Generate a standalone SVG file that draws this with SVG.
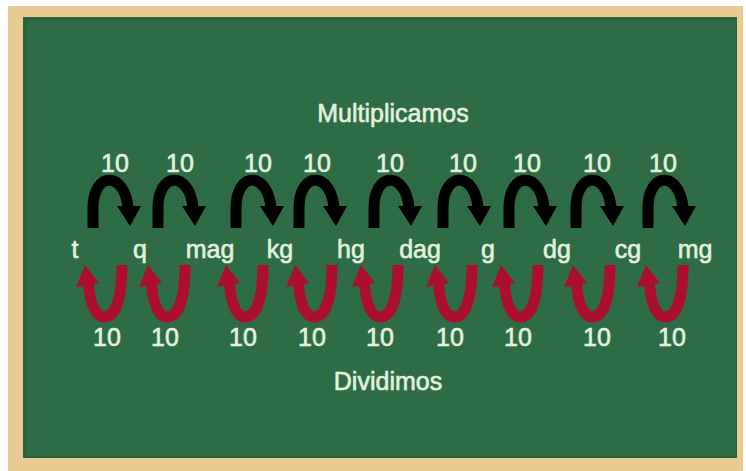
<svg xmlns="http://www.w3.org/2000/svg" width="746" height="471" viewBox="0 0 746 471">
<defs>
<style>
.t{font-family:"Liberation Sans",Arial,sans-serif;fill:#E1F2DE;stroke:#E1F2DE;stroke-width:0.6;text-anchor:middle;font-size:25px}
.h{font-size:25px}
.u{font-size:25px}
.bs{fill:none;stroke:#000;stroke-width:11;stroke-linecap:butt}
.rs{fill:none;stroke:#AC0F2D;stroke-width:11;stroke-linecap:butt}
</style>
<g id="blk">
<path class="bs" d="M 6 50 L 6 30 C 6 -7 38 -7 41 30"/>
<polygon points="30,28 54,28 43,48" fill="#000"/>
</g>
<g id="red">
<path class="rs" d="M 11 14 C 13 44 20 52 27 52 C 35 52 45 42 45 0"/>
<polygon points="-1,22 22,18 8,0" fill="#AC0F2D"/>
</g>
</defs>
<g id="board">
<rect x="8" y="6" width="735" height="466" fill="#EACA93"/>
<rect x="23" y="17" width="714" height="441" fill="#2A6240"/>
<rect x="27" y="20" width="709" height="436" fill="#2E6C46"/>
</g>
<g id="titles">
<text class="t h" x="393" y="122">Multiplicamos</text>
<text class="t h" x="388" y="390">Dividimos</text>
</g>
<g id="connectors">
<use href="#blk" x="87" y="178"/>
<use href="#blk" x="152" y="178"/>
<use href="#blk" x="230" y="178"/>
<use href="#blk" x="293" y="178"/>
<use href="#blk" x="368" y="178"/>
<use href="#blk" x="437" y="178"/>
<use href="#blk" x="503" y="178"/>
<use href="#blk" x="570" y="178"/>
<use href="#blk" x="642" y="178"/>
<use href="#red" x="77" y="265"/>
<use href="#red" x="140" y="265"/>
<use href="#red" x="218" y="265"/>
<use href="#red" x="287" y="265"/>
<use href="#red" x="353" y="265"/>
<use href="#red" x="427" y="265"/>
<use href="#red" x="493" y="265"/>
<use href="#red" x="565" y="265"/>
<use href="#red" x="638" y="265"/>
</g>
<g id="top-labels">
<text class="t" x="115" y="172">10</text>
<text class="t" x="180" y="172">10</text>
<text class="t" x="258" y="172">10</text>
<text class="t" x="317" y="172">10</text>
<text class="t" x="390" y="172">10</text>
<text class="t" x="463" y="172">10</text>
<text class="t" x="527" y="172">10</text>
<text class="t" x="597" y="172">10</text>
<text class="t" x="663" y="172">10</text>
</g>
<g id="units">
<text class="t u" x="75" y="258">t</text>
<text class="t u" x="140" y="258">q</text>
<text class="t u" x="210" y="258">mag</text>
<text class="t u" x="280" y="258">kg</text>
<text class="t u" x="351" y="258">hg</text>
<text class="t u" x="420" y="258">dag</text>
<text class="t u" x="488" y="258">g</text>
<text class="t u" x="557" y="258">dg</text>
<text class="t u" x="628" y="258">cg</text>
<text class="t u" x="695" y="258">mg</text>
</g>
<g id="bottom-labels">
<text class="t" x="107" y="346">10</text>
<text class="t" x="165" y="346">10</text>
<text class="t" x="243" y="346">10</text>
<text class="t" x="312" y="346">10</text>
<text class="t" x="380" y="346">10</text>
<text class="t" x="450" y="346">10</text>
<text class="t" x="518" y="346">10</text>
<text class="t" x="597" y="346">10</text>
<text class="t" x="672" y="346">10</text>
</g>
</svg>
